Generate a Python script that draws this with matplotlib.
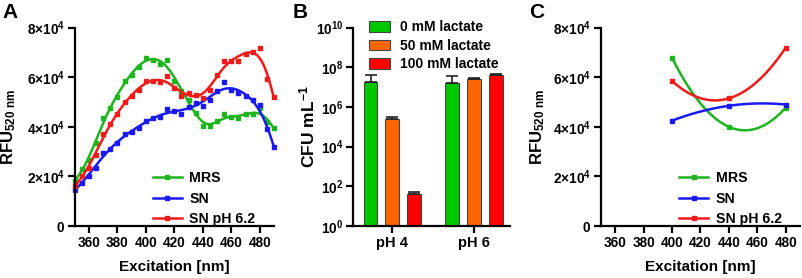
import numpy as np
import matplotlib
matplotlib.use("Agg")
import matplotlib.pyplot as plt
from matplotlib.lines import Line2D
from matplotlib.patches import Patch

plt.rcParams['font.family'] = ['Liberation Sans', 'DejaVu Sans']
plt.rcParams['font.weight'] = 'bold'
plt.rcParams['mathtext.fontset'] = 'custom'
plt.rcParams['mathtext.rm'] = 'Liberation Sans:bold'
plt.rcParams['mathtext.bf'] = 'Liberation Sans:bold'
plt.rcParams['mathtext.it'] = 'Liberation Sans:bold'

# ---------------- data ----------------
wavelength = list(range(350, 491, 5))
mrs = [1.80, 2.30, 2.65, 3.35, 4.35, 4.75, 5.20, 5.85, 6.10, 6.40, 6.78, 6.70, 6.55, 6.68, 5.85,
       5.45, 5.10, 4.55, 4.02, 4.02, 4.25, 4.50, 4.40, 4.35, 4.50, 4.52, 4.75, 4.20, 3.95]
sn = [1.45, 1.75, 2.00, 2.35, 2.95, 3.10, 3.35, 3.70, 3.80, 3.95, 4.25, 4.35, 4.40, 4.70, 4.65,
      4.50, 4.80, 4.95, 4.85, 5.10, 5.45, 5.80, 5.50, 5.35, 5.25, 5.10, 4.90, 3.90, 3.20]
sn62 = [1.60, 2.00, 2.35, 2.85, 3.70, 4.10, 4.50, 5.00, 5.25, 5.50, 5.85, 5.85, 5.80, 6.05, 5.55,
        5.25, 5.35, 5.30, 5.15, 5.50, 6.10, 6.65, 6.65, 6.65, 6.95, 7.00, 7.20, 5.95, 5.20]

wl_c = [400, 440, 480]
mrs_c = [6.78, 4.00, 4.78]
sn_c = [4.25, 4.85, 4.90]
sn62_c = [5.85, 5.15, 7.20]

series_names = ['MRS', 'SN', 'SN pH 6.2']
series_colors = ['#1DB41D', '#1A1AF0', '#F01A1A']

groups = ['pH 4', 'pH 6']
lactate = ['0 mM lactate', '50 mM lactate', '100 mM lactate']
cfu = [[1.75e7, 1.7e7], [2.4e5, 2.7e7], [41, 4.0e7]]
cfu_err_top = [[4.3e7, 3.6e7], [3.0e5, 3.0e7], [50, 4.6e7]]
bar_colors = ['#00C800', '#FF6600', '#FF0000']


def smooth(x, y, xs, bw):
    x = np.asarray(x, float); y = np.asarray(y, float)
    out = []
    for x0 in xs:
        w = np.exp(-0.5 * ((x - x0) / bw) ** 2)
        X = np.vstack([np.ones_like(x), x - x0, (x - x0) ** 2]).T
        A = X.T @ (w[:, None] * X)
        b = X.T @ (w * y)
        out.append(np.linalg.solve(A, b)[0])
    return np.array(out)


W, H = 803, 278
fig = plt.figure(figsize=(W / 100, H / 100), dpi=100)
TICK = 9.8


def ax_px(l, r, t, b):
    return fig.add_axes([l / W, 1 - b / H, (r - l) / W, (b - t) / H])


def style(ax):
    for s in ['top', 'right']:
        ax.spines[s].set_visible(False)
    for s in ['left', 'bottom']:
        ax.spines[s].set_linewidth(1.6)
    ax.tick_params(width=1.6, length=5, labelsize=TICK, pad=2)
    for lab in ax.get_xticklabels() + ax.get_yticklabels():
        lab.set_fontweight('bold')


ylabels = [r'$\mathbf{0}$'] + [r'$\mathbf{%d{\times}10^{4}}$' % v for v in (2, 4, 6, 8)]


def rfu_axes(ax):
    ax.set_xlim(350, 490)
    ax.set_ylim(0, 8)
    ax.set_xticks(range(360, 481, 20))
    ax.set_yticks([0, 2, 4, 6, 8])
    ax.set_yticklabels(ylabels)
    style(ax)
    ax.set_xlabel('Excitation [nm]', fontsize=11, fontweight='bold')
    ax.xaxis.set_label_coords(0.5, -0.205)
    ax.xaxis.label.set_va('center')
    ax.set_ylabel(r'$\mathbf{RFU_{520\ nm}}$', fontsize=12)
    ax.yaxis.label.set_va('center')


def rfu_legend(ax):
    handles = [Line2D([], [], color=c, lw=1.8, marker='s', markersize=3) for c in series_colors]
    ax.legend(handles, series_names, loc='lower left', bbox_to_anchor=(0.33, -0.065),
              frameon=False, handlelength=2.0, handletextpad=0.55,
              labelspacing=0.45, prop={'weight': 'bold', 'size': 10.2})


# ---------------- Panel A ----------------
axA = ax_px(74.7, 274, 27.7, 226)
xs = np.linspace(350, 490, 300)
for ys, c, bwid in zip([mrs, sn, sn62], series_colors, [8.5, 11.0, 9.5]):
    axA.plot(xs, smooth(wavelength, ys, xs, bwid), color=c, lw=1.8, clip_on=False)
    axA.plot(wavelength, ys, 's', color=c, markersize=3.4, clip_on=False)
rfu_axes(axA)
axA.yaxis.set_label_coords(-0.33, 0.5)
rfu_legend(axA)

# ---------------- Panel B ----------------
axB = ax_px(353.3, 510, 27.7, 226)
offs = [-0.268, 0, 0.268]
bw = 0.17
gx = np.arange(len(groups))
for i in range(3):
    vals = np.array(cfu[i])
    err = np.array(cfu_err_top[i]) - vals
    axB.bar(gx + offs[i], vals, width=bw, color=bar_colors[i], edgecolor='#444444', linewidth=0.8,
            yerr=[np.zeros_like(err), err], capsize=4,
            error_kw=dict(elinewidth=1.2, capthick=1.2, ecolor='#222222'), zorder=2)
axB.set_yscale('log')
axB.set_ylim(1, 1e10)
axB.set_xlim(-0.478, 1.435)
axB.set_yticks([1e0, 1e2, 1e4, 1e6, 1e8, 1e10])
axB.set_yticklabels([r'$\mathbf{10^{%d}}$' % k for k in (0, 2, 4, 6, 8, 10)])
axB.yaxis.set_minor_locator(matplotlib.ticker.NullLocator())
axB.set_xticks(gx)
axB.set_xticklabels(groups)
style(axB)
axB.tick_params(axis='x', labelsize=10.5)
axB.set_ylabel(r'$\mathbf{CFU\ mL^{-1}}$', fontsize=12.5)
axB.yaxis.set_label_coords(-0.295, 0.5)
axB.yaxis.label.set_va('center')
handlesB = [Patch(facecolor=c, edgecolor='#444444', linewidth=0.8) for c in bar_colors]
axB.legend(handlesB, lactate, loc='upper left', bbox_to_anchor=(0.02, 1.1), frameon=False,
           prop={'weight': 'bold', 'size': 10}, handlelength=1.5, handleheight=0.8,
           handletextpad=0.75, labelspacing=0.32)

# ---------------- Panel C ----------------
axC = ax_px(601, 800, 27.7, 226)
xc = np.linspace(400, 480, 200)
for ys, c in zip([mrs_c, sn_c, sn62_c], series_colors):
    p = np.polyfit(wl_c, ys, 2)
    axC.plot(xc, np.polyval(p, xc), color=c, lw=1.8, clip_on=False)
    axC.plot(wl_c, ys, 's', color=c, markersize=3.4, clip_on=False)
rfu_axes(axC)
axC.yaxis.set_label_coords(-0.32, 0.5)
rfu_legend(axC)

# panel letters
for lbl, x in [('A', 10), ('B', 300), ('C', 537)]:
    fig.text(x / W, 1 - 12.5 / H, lbl, fontsize=15, fontweight='bold', ha='center', va='center')

fig.savefig('out.png', dpi=100)
